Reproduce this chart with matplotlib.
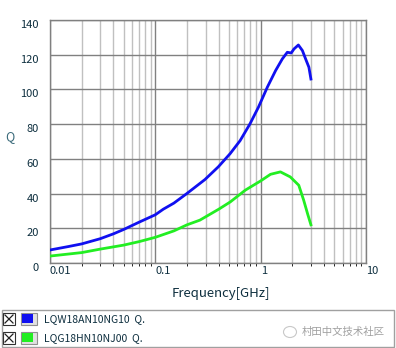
import matplotlib
matplotlib.use("Agg")
from matplotlib import pyplot as plt
from matplotlib.patches import Rectangle, Ellipse
from matplotlib.ticker import FixedLocator, NullFormatter

# Q vs frequency, LQW18AN10NG10 (wire wound)
freq_w = [0.01, 0.015, 0.02, 0.03, 0.04, 0.05, 0.07, 0.1, 0.119, 0.15, 0.199,
          0.296, 0.396, 0.513, 0.638, 0.794, 0.953, 1.157, 1.387, 1.606, 1.79,
          1.95, 2.07, 2.28, 2.49, 2.67, 2.87, 3.0]
q_w = [7.5, 9.5, 11, 14, 16.8, 19.3, 23.5, 27.8, 31, 34.5, 40,
       48.1, 55.4, 63, 70.5, 80.3, 89.8, 101.3, 110.9, 117.6, 121.4,
       121, 123.3, 125.6, 122.4, 117.6, 112.8, 106]

# Q vs frequency, LQG18HN10NJ00 (multilayer)
freq_g = [0.01, 0.02, 0.03, 0.05, 0.07, 0.1, 0.15, 0.2, 0.265, 0.4, 0.515,
          0.716, 1.0, 1.24, 1.54, 1.91, 2.3, 2.56, 2.8, 3.0]
q_g = [4, 6, 8, 10.3, 12.3, 14.8, 18.5, 22, 24.7, 31, 35.2,
       42, 47.3, 51.1, 52.5, 49.6, 44.8, 36.2, 28, 22]

names = ["LQW18AN10NG10  Q.", "LQG18HN10NJ00  Q."]
colors = ["#1010f0", "#22ee22"]

xticks = [0.01, 0.1, 1, 10]
xlabels = ["0.01", "0.1", "1", "10"]
yticks = [0, 20, 40, 60, 80, 100, 120, 140]

txt = "#0e2f3f"
plt.rcParams["font.family"] = ["Noto Sans CJK JP", "DejaVu Sans"]

fig = plt.figure(figsize=(3.96, 3.48), dpi=100)
W, H = 396, 348
ax = fig.add_axes([50 / W, (H - 263) / H, 316 / W, 243 / H])

ax.plot(freq_w, q_w, color=colors[0], lw=2, zorder=3)
ax.plot(freq_g, q_g, color=colors[1], lw=2, zorder=3)

ax.set_xscale("log")
ax.set_xlim(0.01, 10)
ax.set_ylim(0, 140)

minor = [m * 10.0 ** e for e in (-2, -1, 0) for m in range(2, 10)]
ax.xaxis.set_major_locator(FixedLocator(xticks))
ax.xaxis.set_minor_locator(FixedLocator(minor))
ax.xaxis.set_minor_formatter(NullFormatter())
ax.set_xticks(xticks)
ax.set_xticklabels(xlabels)
ax.set_yticks(yticks)
ax.tick_params(length=0, labelsize=8, labelcolor=txt)
ax.tick_params(axis="x", pad=2)
ax.tick_params(axis="y", pad=8)
for lab in ax.get_xticklabels():
    lab.set_horizontalalignment("left")
for lab in ax.get_yticklabels():
    lab.set_verticalalignment("top")

ax.grid(True, which="major", color="#808080", lw=1)
ax.grid(True, which="minor", axis="x", color="#c0c0c0", lw=1)
ax.set_axisbelow(True)
for s in ax.spines.values():
    s.set_color("#808080")
    s.set_linewidth(1)

fig.text(221 / W, 1 - 293 / H, "Frequency[GHz]", ha="center", va="center",
         fontsize=9.5, color=txt)
fig.text(10 / W, 1 - 137 / H, "Q", ha="center", va="center",
         fontsize=9, color="#3a6a7a")

# legend panel
fig.add_artist(Rectangle((2 / W, 1 / H), 392 / W, 37 / H, transform=fig.transFigure,
                         fc="white", ec="#a0a0a0", lw=1))
for i, (name, c) in enumerate(zip(names, colors)):
    yc = 319 + 19 * i
    fig.add_artist(Rectangle((3 / W, 1 - (yc + 6) / H), 12 / W, 12 / H,
                             transform=fig.transFigure, fc="white", ec="#303030", lw=0.8))
    fig.add_artist(plt.Line2D([5 / W, 13 / W], [1 - (yc - 4) / H, 1 - (yc + 4) / H],
                              transform=fig.transFigure, color="#202020", lw=0.9))
    fig.add_artist(plt.Line2D([5 / W, 13 / W], [1 - (yc + 4) / H, 1 - (yc - 4) / H],
                              transform=fig.transFigure, color="#202020", lw=0.9))
    fig.add_artist(Rectangle((21 / W, 1 - (yc + 6) / H), 16 / W, 12 / H,
                             transform=fig.transFigure, fc="#e0e0e0", ec="#909090", lw=0.8))
    fig.add_artist(Rectangle((22 / W, 1 - (yc + 4) / H), 11 / W, 9 / H,
                             transform=fig.transFigure, fc=c, ec="none"))
    fig.text(44 / W, 1 - yc / H, name, ha="left", va="center",
             fontsize=7.5, color=txt)

fig.add_artist(Ellipse((290 / W, 1 - 332 / H), 13 / W, 11 / H, transform=fig.transFigure,
                       fc="none", ec="#c8c8c8", lw=0.8))
fig.text(302 / W, 1 - 332 / H, "村田中文技术社区", ha="left", va="center",
         fontsize=7.5, color="#a0a0a0")

fig.savefig("out.png", dpi=100)
